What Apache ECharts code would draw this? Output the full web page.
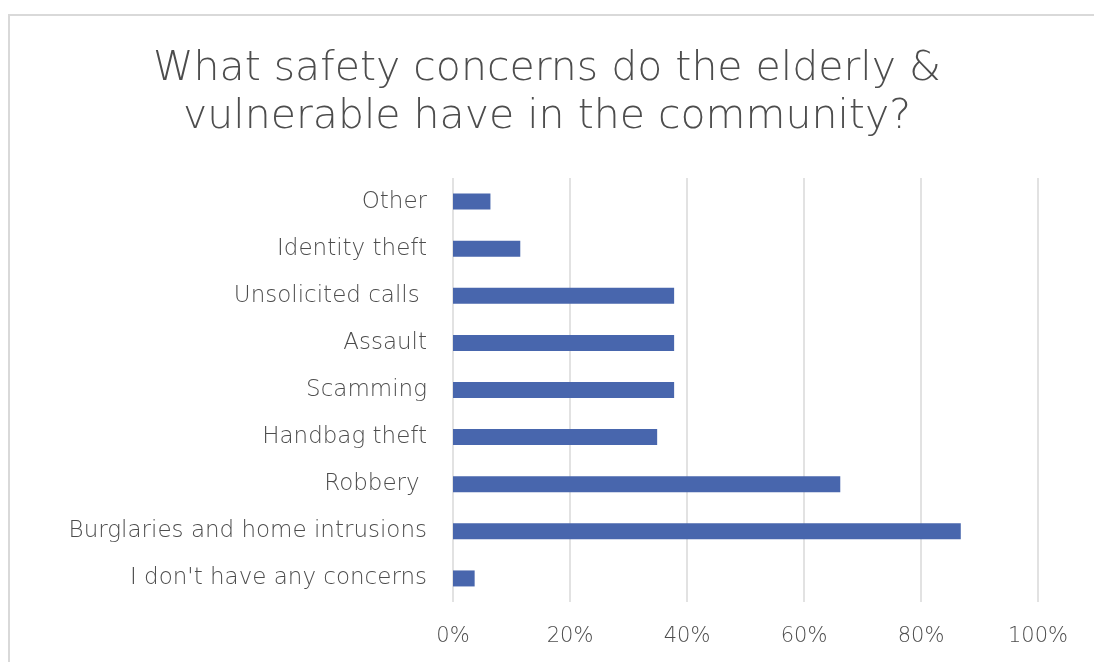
<!DOCTYPE html>
<html>
<head>
<meta charset="utf-8">
<script src="https://cdn.jsdelivr.net/npm/echarts@6/dist/echarts.min.js"></script>
<style>
html,body{margin:0;padding:0;background:#fff;}
#frame{position:absolute;left:8px;top:14px;width:1200px;height:800px;border-left:2px solid #d9d9d9;border-top:2px solid #d9d9d9;box-sizing:border-box;}
#main{position:absolute;left:0;top:0;width:1094px;height:662px;}
</style>
</head>
<body>
<div id="frame"></div>
<div id="main"></div>
<script>
const titleText = "What safety concerns do the elderly &\nvulnerable have in the community?";
const categories = ["I don't have any concerns","Burglaries and home intrusions","Robbery ","Handbag theft","Scamming","Assault","Unsolicited calls ","Identity theft","Other"];
const values = [3.7, 86.8, 66.2, 34.9, 37.8, 37.8, 37.8, 11.5, 6.4];
const xTicks = [0, 20, 40, 60, 80, 100];

const chart = echarts.init(document.getElementById('main'));
const font = '"DejaVu Sans", sans-serif';
chart.setOption({
  animation: false,
  title: {
    text: titleText,
    left: 'center',
    top: 40,
    textStyle: {fontFamily: font, fontWeight: 200, fontSize: 41, color: '#4d4d4d', lineHeight: 48}
  },
  grid: {left: 453, right: 56, top: 178, bottom: 60, containLabel: false},
  xAxis: {
    type: 'value', min: xTicks[0], max: xTicks[xTicks.length-1], interval: 20,
    axisLine: {show: false}, axisTick: {show: false},
    splitLine: {show: true, lineStyle: {color: '#d9d9d9', width: 1.5}},
    axisLabel: {formatter: v => v + '%', fontFamily: font, fontWeight: 200, fontSize: 21, color: '#4d4d4d', margin: 24}
  },
  yAxis: {
    type: 'category', data: categories,
    axisLine: {show: false}, axisTick: {show: false},
    axisLabel: {fontFamily: font, fontWeight: 200, fontSize: 23, color: '#4d4d4d', margin: 26}
  },
  series: [{
    type: 'bar', data: values, barWidth: 16,
    itemStyle: {color: '#4866ad'}
  }]
});
</script>
</body>
</html>
